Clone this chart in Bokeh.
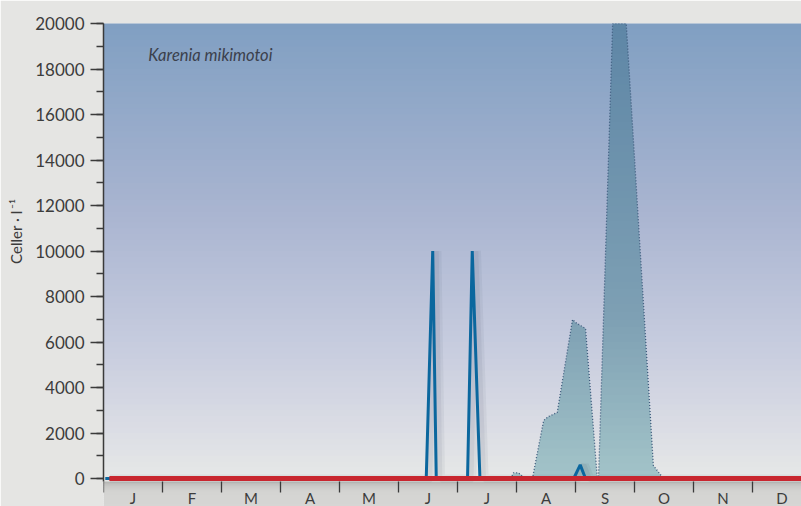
import numpy as np
from bokeh.plotting import figure
from bokeh.models import (Range1d, FixedTicker, SingleIntervalTicker, Label, BoxAnnotation,
                          ColumnDataSource, LinearAxis)
from bokeh.transform import dodge
from bokeh.embed import file_html
from bokeh.resources import INLINE

# ---------------- data (x in months from 1 January) ----------------
months = ["J", "F", "M", "A", "M", "J", "J", "A", "S", "O", "N", "D"]

# shaded series (dotted outline)
area_x = [6.90, 6.95, 7.03, 7.15, 7.27, 7.46, 7.54, 7.69, 7.95, 8.00, 8.17, 8.37, 8.39, 8.63, 8.86, 9.32, 9.49]
area_y = [0, 250, 250, 0, 0, 2550, 2720, 2900, 6990, 6860, 6590, 0, 0, 20000, 20000, 570, 0]

# blue line series
blue_x = [0.03, 5.47, 5.58, 5.64, 6.17, 6.25, 6.38, 7.97, 8.08, 8.17, 12.0]
blue_y = [0, 0, 10000, 0, 0, 10000, 0, 0, 600, 0, 0]

# red line series
red_x = [0.10, 12.0]
red_y = [0, 0]

title_text = "Karenia mikimotoi"
y_label = "Celler · l\u2009⁻¹"
y_label_pad = "\u2003" * 6   # leading em spaces lift the rotated title above the frame middle

# ---------------- layout ----------------
PX_PER_MONTH = 59.0
FRAME_W = 698
Y_MAX = 20000
PX_PER_UNIT = 455.0 / Y_MAX
x_axis_at = -3.0 / PX_PER_UNIT          # month axis 3px below zero
y_start = -28.0 / PX_PER_UNIT           # frame reaches the bottom of the page

p = figure(width=801, height=506, output_backend="svg", toolbar_location=None,
           x_range=Range1d(0, FRAME_W / PX_PER_MONTH), y_range=Range1d(y_start, Y_MAX),
           min_border_left=103, min_border_right=0, min_border_top=23, min_border_bottom=0)
p.border_fill_color = "#e5e5e3"
p.outline_line_color = None
p.xgrid.visible = False
p.ygrid.visible = False
p.background_fill_color = "#e6e8e7"

FONT = "Lato"


def interp_color(stops, v):
    vs = [s[0] for s in stops]
    rgb = [int(round(np.interp(v, vs, [s[1][c] for s in stops]))) for c in range(3)]
    return "#%02x%02x%02x" % tuple(rgb)


# background gradient
bg_stops = [(0, (230, 232, 231)), (2000, (220, 222, 229)), (6000, (198, 203, 222)),
            (12000, (168, 180, 208)), (20000, (128, 159, 194))]
bg_levels = np.linspace(0, Y_MAX, 81)
p.add_layout(BoxAnnotation(bottom=x_axis_at, top=60, fill_color=interp_color(bg_stops, 0),
                           fill_alpha=1.0, line_color=None, level="underlay"))
for lo, hi in zip(bg_levels[:-1], bg_levels[1:]):
    p.add_layout(BoxAnnotation(bottom=lo, top=hi + 60, fill_color=interp_color(bg_stops, (lo + hi) / 2),
                               fill_alpha=1.0, line_color=None, level="underlay"))

# grey strip under the month axis, with a soft shadow below the zero line
strip_stops = [(0, (180, 180, 178)), (4, (200, 200, 198)), (10, (212, 212, 210)), (26, (214, 214, 212))]
strip_px = np.arange(0, 26, 2)
for a, b in zip(strip_px[:-1], strip_px[1:]):
    p.add_layout(BoxAnnotation(top=x_axis_at - a / PX_PER_UNIT, bottom=x_axis_at - (b + 0.5) / PX_PER_UNIT,
                               fill_color=interp_color(strip_stops, (a + b) / 2), fill_alpha=1.0,
                               line_color=None, level="underlay"))
p.add_layout(BoxAnnotation(top=x_axis_at - 24 / PX_PER_UNIT, bottom=y_start,
                           fill_color="#d6d6d4", fill_alpha=1.0, line_color=None, level="underlay"))

# shaded series with vertical gradient
area_stops = [(0, (163, 196, 200)), (7000, (126, 160, 180)), (20000, (94, 134, 166))]
levels = list(np.linspace(0, Y_MAX, 61))


def with_crossings(xs, ys, lv):
    px, py = [xs[0]], [ys[0]]
    for i in range(len(xs) - 1):
        x0, y0, x1, y1 = xs[i], ys[i], xs[i + 1], ys[i + 1]
        cr = [L for L in lv if (y0 - L) * (y1 - L) < 0]
        cr.sort(reverse=(y0 > y1))
        for L in cr:
            t = (L - y0) / (y1 - y0)
            px.append(x0 + t * (x1 - x0))
            py.append(L)
        px.append(x1)
        py.append(y1)
    return np.array(px), np.array(py)


gx, gy = with_crossings(area_x, area_y, levels)
for lo, hi in zip(levels[:-1], levels[1:]):
    p.varea(x=gx, y1=np.minimum(gy, lo), y2=np.minimum(gy, hi + 40),
            fill_color=interp_color(area_stops, (lo + hi) / 2), fill_alpha=1.0)
p.line(area_x, area_y, line_color="#3d5a7c", line_width=1.3, line_dash="1 2")

# blue series with soft shadow
bsrc = ColumnDataSource(dict(x=blue_x, y=blue_y))
p.line(x=dodge("x", 0.08, range=p.x_range), y="y", source=bsrc, line_color="#1a2a40",
       line_alpha=0.05, line_width=8)
p.line(x=dodge("x", 0.06, range=p.x_range), y="y", source=bsrc, line_color="#1a2a40",
       line_alpha=0.06, line_width=5)
p.line(x="x", y="y", source=bsrc, line_color="#0b679e", line_width=3)

# red series
p.line(red_x, red_y, line_color="#c8262f", line_width=5)

# axes
yax = p.yaxis[0]
yax.ticker = SingleIntervalTicker(interval=2000, num_minor_ticks=2)
yax.bounds = (x_axis_at, Y_MAX)
yax.major_tick_out = 13
yax.major_tick_in = 0
yax.minor_tick_out = 7
yax.minor_tick_in = 0
yax.major_tick_line_color = "#3a3a3a"
yax.minor_tick_line_color = "#3a3a3a"
yax.major_tick_line_width = 1.3
yax.minor_tick_line_width = 1.3
yax.axis_line_color = "#3a3a3a"
yax.axis_line_width = 1.5
yax.major_label_standoff = 6
yax.major_label_text_font = FONT
yax.major_label_text_font_size = "17px"
yax.major_label_text_color = "#3c3c3c"

# separate label-only axis for the y title
lab_ax = LinearAxis(ticker=FixedTicker(ticks=[]), axis_line_color=None,
                    major_tick_out=0, major_tick_in=0, minor_tick_out=0, minor_tick_in=0,
                    major_label_text_font_size="0px",
                    axis_label=y_label_pad + y_label, axis_label_text_font=FONT,
                    axis_label_text_font_style="normal", axis_label_text_font_size="15px",
                    axis_label_text_color="#3c3c3c", axis_label_standoff=8)
p.add_layout(lab_ax, "left")

xax = p.xaxis[0]
xax.fixed_location = x_axis_at
xax.ticker = FixedTicker(ticks=[i + 0.5 for i in range(12)], minor_ticks=list(range(13)))
xax.major_label_overrides = {i + 0.5: m for i, m in enumerate(months)}
xax.major_tick_out = 0
xax.major_tick_in = 0
xax.minor_tick_out = 11
xax.minor_tick_in = 0
xax.minor_tick_line_color = "#3a3a3a"
xax.minor_tick_line_width = 1.3
xax.axis_line_color = None
xax.major_label_standoff = -4
xax.major_label_text_font = FONT
xax.major_label_text_font_size = "15px"
xax.major_label_text_color = "#3c3c3c"

# title inside the plot
p.add_layout(Label(x=0.76, y=18600, text=title_text, text_font=FONT, text_font_style="italic",
                   text_font_size="16.5px", text_color="#3b404c", text_baseline="middle"))

open("out.html", "w").write(file_html(p, INLINE))
